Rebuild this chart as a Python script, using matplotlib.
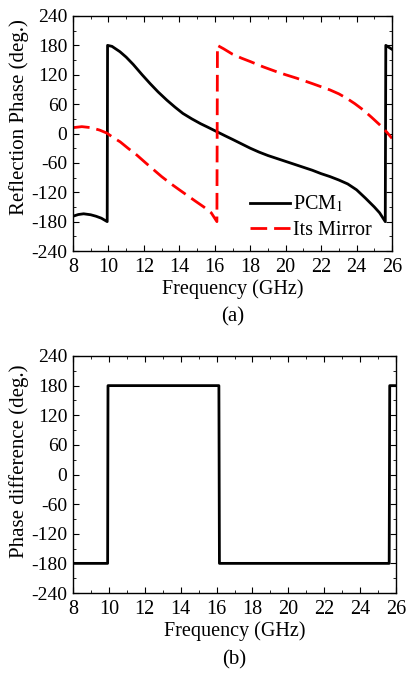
import matplotlib
matplotlib.use("Agg")
import matplotlib.pyplot as plt
import numpy as np

# PCM1 reflection phase (black)
pcm_f = [8.0, 8.3, 8.6, 9.0, 9.3, 9.6, 9.93, 9.95, 10.2, 10.65, 11.0, 11.4, 11.9, 12.35,
         12.8, 13.3, 13.75, 14.2, 14.7, 15.2, 15.6, 16.1, 16.6, 17.0, 17.5, 18.0, 18.5,
         19.0, 19.5, 20.0, 20.5, 21.0, 21.5, 22.0, 22.5, 23.0, 23.5, 24.0, 24.5, 25.0,
         25.3, 25.62, 25.65, 26.0]
pcm_p = [-169, -165.5, -164, -166, -169, -173, -180, 180, 178, 167, 156, 141, 120, 102,
         85, 68, 54, 41, 30, 20, 13, 4, -5, -12, -21, -30, -38,
         -45, -51, -57, -63, -69, -75, -82, -88, -95, -103, -115, -132, -150,
         -162, -180, 180, 172]

# its mirror (red dashed)
mir_f = [8.0, 8.5, 9.0, 9.5, 9.9, 10.3, 10.66, 11.1, 11.6, 12.1, 12.55, 13.0, 13.5, 14.0,
         14.43, 14.9, 15.38, 15.8, 16.12, 16.15, 16.5, 17.0, 17.5, 18.0, 18.74, 19.5, 20.0,
         20.62, 21.5, 22.5, 23.0, 23.44, 23.9, 24.38, 24.85, 25.33, 25.7, 26.0]
mir_p = [12, 14, 12, 7, 1, -9, -17, -30, -44, -60, -74, -88, -102, -115,
         -126, -138, -150, -162, -180, 180, 173, 162, 154, 147, 136, 126, 120,
         113, 102, 89, 81, 72, 61, 48, 33, 17, 3, -10]

# phase difference
diff_f = [8.0, 9.93, 9.95, 16.13, 16.16, 25.62, 25.65, 26.0]
diff_p = [-180, -180, 180, 180, -180, -180, 180, 180]

plt.rcParams['font.family'] = ['Liberation Serif', 'DejaVu Serif']
plt.rcParams['mathtext.fontset'] = 'stix'
plt.rcParams['axes.unicode_minus'] = False

fig = plt.figure(figsize=(4.08, 6.74), dpi=100)
W, H = 408, 674
ax1 = fig.add_axes([73 / W, 1 - 251 / H, (392 - 73) / W, (251 - 16) / H])
ax2 = fig.add_axes([73 / W, 1 - 593 / H, (396 - 73) / W, (593 - 356) / H])

ax1.plot(pcm_f, pcm_p, color='black', lw=2, label='PCM$_1$')
ax1.plot(mir_f, mir_p, color='red', lw=2, ls=(0, (6, 2.5)), label='Its Mirror')
ax1.set_ylabel('Reflection Phase (deg.)', fontsize=15)
ax1.yaxis.set_label_coords(-0.138, 0.57)
ax1.legend(loc='upper left', bbox_to_anchor=(0.555, 0.243), frameon=False,
           fontsize=14.5, handlelength=2.0, handletextpad=0.15, labelspacing=0.3,
           borderpad=0, borderaxespad=0)

ax2.plot(diff_f, diff_p, color='black', lw=2)
ax2.set_ylabel('Phase difference (deg.)', fontsize=15)
ax2.yaxis.set_label_coords(-0.137, 0.557)

for ax in (ax1, ax2):
    ax.set_xlim(8, 26)
    ax.set_ylim(-240, 240)
    ax.set_xticks(np.arange(8, 27, 2))
    ax.set_xticks(np.arange(9, 26, 2), minor=True)
    ax.set_yticks(np.arange(-240, 241, 60))
    ax.set_yticks(np.arange(-210, 240, 60), minor=True)
    ax.tick_params(which='both', direction='in', top=True, right=True)
    ax.tick_params(axis='x', labelsize=14.5, pad=5)
    ax.tick_params(axis='y', labelsize=14, pad=4)
    ax.tick_params(which='major', length=4)
    ax.tick_params(which='minor', length=2)
    ax.set_xlabel('Frequency (GHz)', fontsize=14.5, labelpad=2)
    for s in ax.spines.values():
        s.set_linewidth(1)

fig.text(0.5 * (73 + 392) / W, 1 - 317 / H, '(a)', ha='center', va='center', fontsize=15)
fig.text(0.5 * (73 + 396) / W, 1 - 660 / H, '(b)', ha='center', va='center', fontsize=15)

fig.savefig('out.png', dpi=100)
